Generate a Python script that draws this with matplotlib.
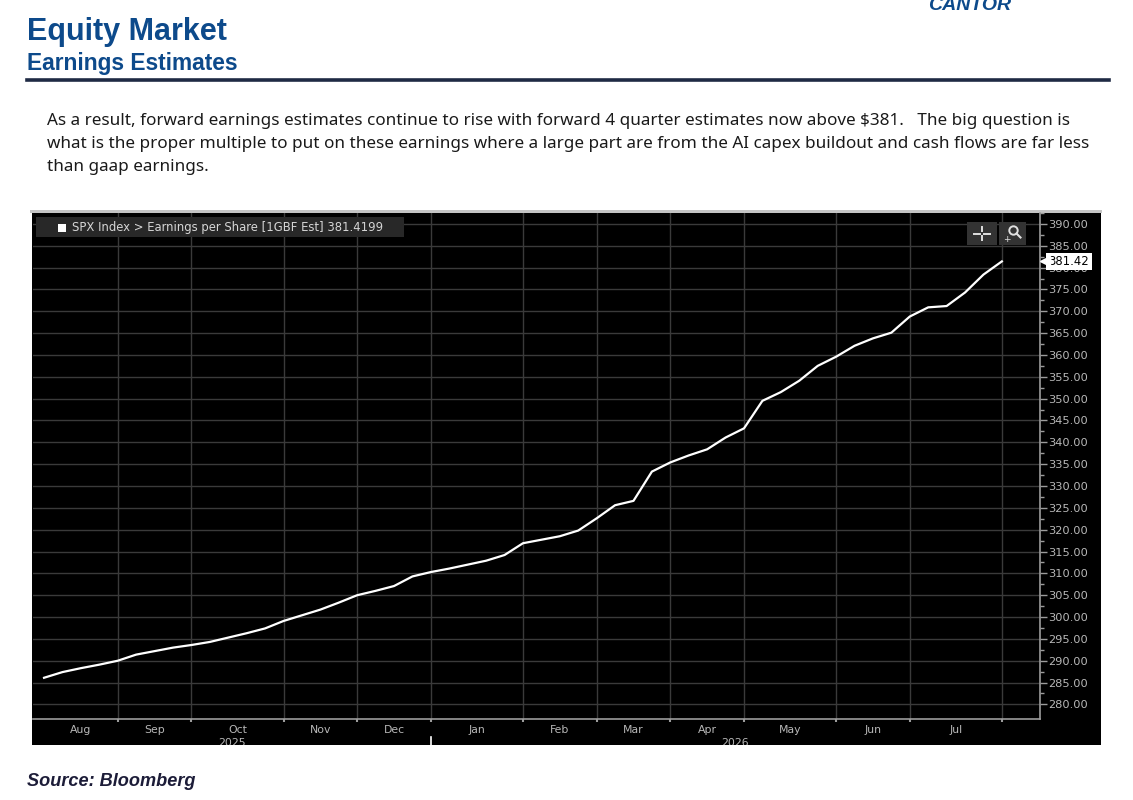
import numpy as np
import pandas as pd
import matplotlib
matplotlib.use("Agg")
import matplotlib.pyplot as plt
from matplotlib.patches import Rectangle, Circle
from matplotlib.lines import Line2D
from matplotlib.transforms import blended_transform_factory

# SPX blended forward 12m EPS estimate, weekly (Friday) closes
week_ends = pd.date_range("2025-08-08", periods=53, freq="W-FRI")
eps_est = [286.1, 287.4, 288.3, 289.1, 290.0, 291.4, 292.2, 293.0, 293.6, 294.3,
           295.3, 296.3, 297.4, 299.1, 300.4, 301.7, 303.3, 305.0, 306.0, 307.1,
           309.3, 310.3, 311.1, 312.0, 312.9, 314.2, 316.9, 317.7, 318.5, 319.8,
           322.6, 325.6, 326.6, 333.3, 335.4, 337.0, 338.4, 341.1, 343.2, 349.5,
           351.5, 354.1, 357.5, 359.6, 362.1, 363.8, 365.1, 368.8, 370.9, 371.2,
           374.3, 378.4, 381.42]
last_value = 381.4199
y_ticks = list(range(280, 391, 5))

series_label = "SPX Index > Earnings per Share [1GBF Est]"
heading = "Equity Market"
subheading = "Earnings Estimates"
body_lines = [
    "As a result, forward earnings estimates continue to rise with forward 4 quarter estimates now above \\$381.   The big question is",
    "what is the proper multiple to put on these earnings where a large part are from the AI capex buildout and cash flows are far less",
    "than gaap earnings.",
]
source = "Source: Bloomberg"

W, H = 1133, 800
BLUE = "#0d4a8b"
GRID = "#3a3a3a"
AXIS = "#9c9c9c"
LABEL = "#b8b8b8"
ICON = "#e0e0e0"


def fx(x):
    return x / W


def fy(y):
    return 1 - y / H


fig = plt.figure(figsize=(W / 100, H / 100), dpi=100)

# header
fig.text(fx(27), fy(40), heading, fontsize=22, weight="bold", color=BLUE,
         family="Liberation Sans", va="baseline")
fig.text(fx(27), fy(70), subheading, fontsize=16.4, weight="bold", color=BLUE,
         family="Liberation Sans", va="baseline")
fig.text(fx(928), fy(10), "CANTOR", fontsize=14, weight="bold", style="italic",
         color=BLUE, family="Liberation Sans", va="baseline")
fig.add_artist(Line2D([fx(27), fx(1109)], [fy(80), fy(80)], color="#1f2a44", lw=2.6))

for i, line in enumerate(body_lines):
    fig.text(fx(47), fy(121 + i * 23), line, fontsize=12.3, color="#1a1a1a",
             family="Noto Sans", va="center")

fig.text(fx(27), fy(781), source, fontsize=13.1, weight="bold", style="italic",
         color="#1c1c38", family="Liberation Sans", va="center")

# bloomberg panel
panel = Rectangle((fx(32), fy(745)), fx(1101) - fx(32), fy(212) - fy(745),
                  transform=fig.transFigure, facecolor="black", edgecolor="none", zorder=-2)
fig.add_artist(panel)
fig.add_artist(Rectangle((fx(30), fy(213)), fx(1102) - fx(30), fy(210) - fy(213),
                         transform=fig.transFigure, facecolor="#c4c4c4", edgecolor="none", zorder=-1))

ax = fig.add_axes([fx(33), fy(719), fx(1040) - fx(33), fy(213) - fy(719)])
ax.set_facecolor("black")
x = np.arange(len(eps_est))
ax.plot(x, eps_est, color="white", lw=1.6, solid_joinstyle="round", zorder=3)

ax.set_xlim(-0.6, 54.07)
ax.set_ylim(276.66, 391.6)

# month boundaries = first week of each month
months = week_ends.month.values
bounds = [i for i in range(1, len(week_ends)) if months[i] != months[i - 1]]
starts = [0] + bounds[:-1]
ax.set_xticks(bounds)
ax.set_xticklabels([])
ax.set_yticks(y_ticks)
ax.set_yticklabels([f"{v:.2f}" for v in y_ticks])
ax.set_yticks([v + 2.5 for v in y_ticks], minor=True)
ax.yaxis.tick_right()
ax.grid(True, color=GRID, lw=1)
ax.tick_params(axis="x", length=2, width=1.5, color=AXIS, direction="out")
ax.tick_params(axis="y", which="major", length=5, width=1, color=AXIS,
               labelcolor=LABEL, labelsize=8.2, pad=1)
ax.tick_params(axis="y", which="minor", length=3, width=1, color=AXIS)
for s in ["top", "left"]:
    ax.spines[s].set_visible(False)
for s in ["right", "bottom"]:
    ax.spines[s].set_color(AXIS)
    ax.spines[s].set_linewidth(1.2)

trans = blended_transform_factory(ax.transData, ax.transAxes)
for a, b in zip(starts, bounds):
    ax.text((a + b) / 2, -0.021, week_ends[a].strftime("%b"), transform=trans,
            ha="center", va="center", fontsize=7.8, color=LABEL, clip_on=False)

years = week_ends.year.values
ysplit = [i for i in range(1, len(week_ends)) if years[i] != years[i - 1]][0]
xl, xr = ax.get_xlim()
for xc, yr in [((xl + ysplit) / 2, years[0]), ((ysplit + xr) / 2, years[-1])]:
    t = ax.text(xc, -0.047, str(yr), transform=trans, ha="center", va="center",
                fontsize=7.8, color=LABEL, clip_on=True)
    t.set_clip_path(panel)
ax.add_line(Line2D([ysplit, ysplit], [-0.035, -0.052], transform=trans,
                   color="white", lw=1.2, clip_on=False))

# legend strip
fig.add_artist(Rectangle((fx(36), fy(237)), fx(404) - fx(36), fy(217) - fy(237),
                         transform=fig.transFigure, facecolor="#282828", edgecolor="none", zorder=1))
fig.add_artist(Rectangle((fx(58), fy(232)), fx(66) - fx(58), fy(224) - fy(232),
                         transform=fig.transFigure, facecolor="white", edgecolor="none", zorder=2))
fig.text(fx(72), fy(227), f"{series_label} {last_value:.4f}", fontsize=8.4,
         color="#d6d6d6", va="center", zorder=3)

# toolbar icons
for x0, x1 in [(967, 997), (999, 1026)]:
    fig.add_artist(Rectangle((fx(x0), fy(245)), fx(x1) - fx(x0), fy(222) - fy(245),
                             transform=fig.transFigure, facecolor="#333333", edgecolor="none", zorder=1))
cross = fig.add_axes([fx(971), fy(243), fx(993) - fx(971), fy(224) - fy(243)], zorder=5)
cross.set_xlim(0, 22)
cross.set_ylim(0, 19)
cross.axis("off")
for seg in [([3, 9], [9.5, 9.5]), ([13, 19], [9.5, 9.5]), ([11, 11], [12, 16]), ([11, 11], [3, 7])]:
    cross.plot(seg[0], seg[1], color=ICON, lw=1.4)
icon = fig.add_axes([fx(1002), fy(243), fx(1022) - fx(1002), fy(224) - fy(243)], zorder=5)
icon.set_xlim(0, 20)
icon.set_ylim(0, 19)
icon.axis("off")
icon.add_patch(Circle((11.5, 12.5), 4.2, fill=False, ec=ICON, lw=1.4))
icon.plot([14.5, 18.5], [9.5, 5.5], color=ICON, lw=1.5)
icon.text(5, 4, "+", fontsize=6.5, color=ICON, ha="center", va="center")

# last value tag
tr_y = blended_transform_factory(ax.transAxes, ax.transData)
ax.text(1.0085, last_value, f"{last_value:.2f}", transform=tr_y, ha="left", va="center",
        fontsize=8.4, color="black", zorder=10, clip_on=False,
        bbox=dict(boxstyle="square,pad=0.2", fc="white", ec="none"))
ax.plot([1.005], [last_value], marker="<", color="white", markersize=7, transform=tr_y,
        clip_on=False, zorder=10)

fig.savefig("out.png", dpi=100)
